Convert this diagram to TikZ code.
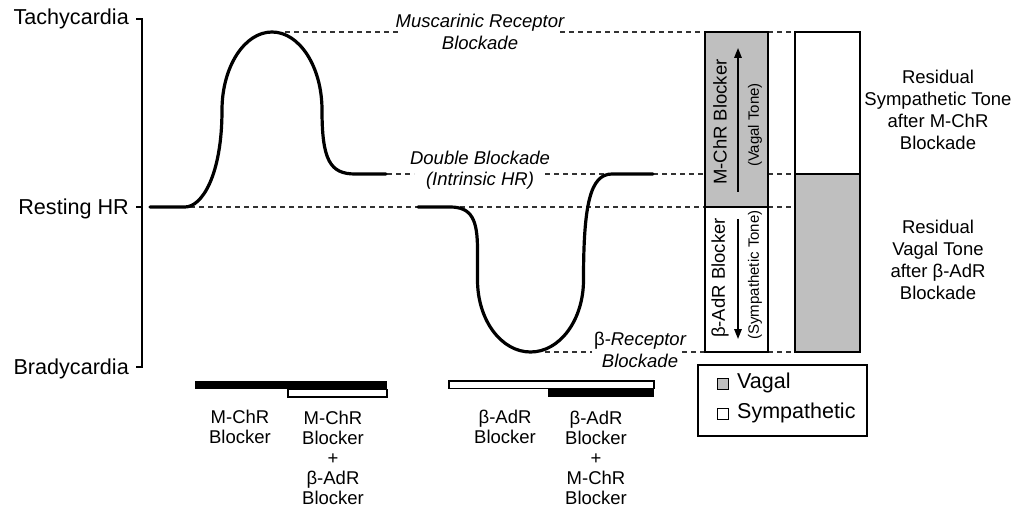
\documentclass[tikz,border=0pt]{standalone}
\usepackage{fontspec}
\setmainfont{Liberation Sans}
\usetikzlibrary{arrows.meta}
\begin{document}
\begin{tikzpicture}[x=1pt,y=-1pt,
  axlbl/.style={font=\fontsize{21.6}{24}\selectfont, inner sep=0pt, anchor=base east},
  txt/.style={font=\fontsize{18.5}{20}\selectfont, align=center, inner sep=0pt},
  rtxt/.style={font=\fontsize{18.5}{22}\selectfont, align=center, inner sep=0pt},
  itxt/.style={font=\fontsize{18.5}{21.5}\selectfont\itshape, align=center, inner sep=0pt},
  vtxt/.style={font=\fontsize{18.5}{20}\selectfont, inner sep=0pt, rotate=90},
  stxt/.style={font=\fontsize{15}{18}\selectfont, inner sep=0pt, rotate=90},
  leg/.style={font=\fontsize{21.5}{24}\selectfont, inner sep=0pt, anchor=west},
  curve/.style={line width=3.2pt, line cap=round, line join=round},
  guide/.style={line width=1.3pt, black!80, dash pattern=on 5pt off 4pt},
  axis/.style={line width=1.6pt},
  barbox/.style={draw=black, line width=1.6pt},
  vagal/.style={fill=black!25},
  tone/.style={line width=1.6pt, -{Triangle[length=10pt,width=7.5pt]}}
]
\useasboundingbox (0,0) rectangle (1019,510);

% axis
\draw[axis] (136,19) -- (142,19) -- (142,367) -- (136,367);
\draw[axis] (136,207) -- (142,207);
\node[axlbl] (tachy) at (129,24.5) {Tachycardia};
\node[axlbl] (rest) at (129,214.5) {Resting HR};
\node[axlbl] (brady) at (129,374.5) {Bradycardia};

% guide lines
\draw[guide] (285,32) -- (398,32);
\draw[guide] (560,32) -- (705,32);
\draw[guide] (768,32) -- (795,32);
\draw[guide] (387,174) -- (414,174);
\draw[guide] (545,174) -- (705,174);
\draw[guide] (768,174) -- (795,174);
\draw[guide] (190,207) -- (705,207);
\draw[guide] (768,207) -- (795,207);
\draw[guide] (545,352) -- (592,352);
\draw[guide] (682,352) -- (705,352);
\draw[guide] (768,352) -- (795,352);

% guide labels
\node[itxt] (mrb) at (480,32) {Muscarinic Receptor\\Blockade};
\node[itxt] (dbl) at (480,170) {Double Blockade\\(Intrinsic HR)};
\node[itxt] (brb) at (640,350) {\textup{β}-Receptor\\Blockade};

% curve 1 (M-ChR blocker)
\draw[curve] (150,207) -- (185,207)
  .. controls (202,207) and (222,175) .. (222,110)
  .. controls (222,67) and (244.4,32) .. (272,32)
  .. controls (299.6,32) and (322,67) .. (322,110)
  .. controls (322,160) and (330,174) .. (355,174) -- (386,174);

% curve 2 (beta-AdR blocker)
\draw[curve] (418,207) -- (450,207)
  .. controls (472,207) and (477.5,220) .. (477.5,250) -- (477.5,280)
  .. controls (477.5,320) and (501.2,352) .. (530.5,352)
  .. controls (559.8,352) and (583.5,320) .. (583.5,280)
  .. controls (583.5,205) and (590,174) .. (612,174) -- (653,174);

% stacked bar 1
\draw[barbox, vagal] (705,32) rectangle (768,207);
\draw[barbox, fill=white] (705,207) rectangle (768,352);
\node[vtxt] (mchr) at (720,122) {M-ChR Blocker};
\node[stxt] (vtone) at (755,125) {(Vagal Tone)};
\node[vtxt] (badr) at (720,278) {β-AdR Blocker};
\node[stxt] (stone) at (755,275) {(Sympathetic Tone)};
\coordinate (upS) at (738,192);
\coordinate (upE) at (738,48);
\coordinate (dnS) at (738,219);
\coordinate (dnE) at (738,339);
\draw[tone] (upS) -- (upE);
\draw[tone] (dnS) -- (dnE);

% stacked bar 2
\draw[barbox, fill=white] (795,32) rectangle (860,174);
\draw[barbox, vagal] (795,174) rectangle (860,352);
\node[rtxt] (rsym) at (938,110) {Residual\\Sympathetic Tone\\after M-ChR\\Blockade};
\node[rtxt] (rvag) at (938,260) {Residual\\Vagal Tone\\after β-AdR\\Blockade};

% drug bars
\fill[black] (195,381) rectangle (387,389);
\draw[line width=1.3pt, fill=white] (288,389.5) rectangle (387,397);
\draw[line width=1.3pt, fill=white] (449,381) rectangle (654,388.5);
\fill[black] (548,389) rectangle (654,397);

\node[txt] (l1) at (240,427) {M-ChR\\Blocker};
\node[txt] (l2) at (333,458) {M-ChR\\Blocker\\+\\β-AdR\\Blocker};
\node[txt] (l3) at (505,427) {β-AdR\\Blocker};
\node[txt] (l4) at (596,458) {β-AdR\\Blocker\\+\\M-ChR\\Blocker};

% legend
\node[draw, line width=1.6pt, minimum width=169pt, minimum height=71pt, inner sep=0pt] (legend) at (782.5,400.5) {};
\node[draw, line width=1.2pt, vagal, minimum size=11pt, inner sep=0pt] (sqv) at (723,384) {};
\node[draw, line width=1.2pt, fill=white, minimum size=11pt, inner sep=0pt] (sqs) at (723,414) {};
\node[leg] (tv) at (737,383) {Vagal};
\node[leg] (ts) at (737,413) {Sympathetic};
\end{tikzpicture}
\end{document}
